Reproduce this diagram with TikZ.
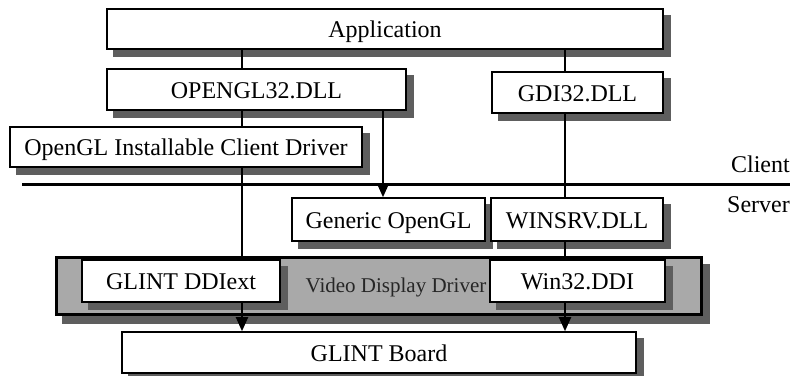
\documentclass[tikz,border=0pt]{standalone}
\usepackage{fontspec}
\setmainfont{Liberation Serif}
\usetikzlibrary{arrows.meta}
\definecolor{shadowgray}{HTML}{5E5E5E}
\definecolor{vddgray}{HTML}{A9A9A9}
\pgfdeclarelayer{backshadow}
\pgfdeclarelayer{back}
\pgfdeclarelayer{shadow}
\pgfdeclarelayer{lines}
\pgfsetlayers{backshadow,back,shadow,lines,main}
\tikzset{
  box/.style={draw=black, line width=1.6pt, fill=white, inner sep=0pt,
    text height=17pt, text depth=0pt, font=\fontsize{24}{28}\selectfont},
  vddbox/.style={draw=black, line width=3pt, fill=vddgray, inner sep=0pt},
  conn/.style={line width=2pt},
  arr/.style={line width=2pt, -{Triangle[length=14pt,width=12pt]}},
  lbl/.style={font=\fontsize{24}{28}\selectfont, inner sep=0pt, anchor=base east},
}
\begin{document}
\begin{tikzpicture}[x=1pt,y=-1pt]
\useasboundingbox (0,0) rectangle (795,375);
% boxes
\node[box, minimum width=556pt, minimum height=40pt] (app) at (385,29) {Application};
\node[box, minimum width=299pt, minimum height=41pt] (ogl) at (256.5,89.5) {OPENGL32.DLL};
\node[box, minimum width=171pt, minimum height=41pt] (gdi) at (577.5,92.5) {GDI32.DLL};
\node[box, minimum width=352pt, minimum height=40pt] (icd) at (186,147) {OpenGL Installable Client Driver};
\node[box, minimum width=193pt, minimum height=43pt] (gen) at (388.5,219.5) {Generic OpenGL};
\node[box, minimum width=172pt, minimum height=43pt] (winsrv) at (577,219.5) {WINSRV.DLL};
\begin{pgfonlayer}{back}
\node[vddbox, minimum width=645pt, minimum height=57pt] (vdd) at (378.5,285.5) {};
\end{pgfonlayer}
\begin{pgfonlayer}{backshadow}
\fill[shadowgray] ([xshift=7pt,yshift=-8pt]vdd.south west) rectangle ([xshift=7pt,yshift=-8pt]vdd.north east);
\end{pgfonlayer}
\node[font=\fontsize{21}{25}\selectfont, inner sep=0pt, text=black!85] (vddtext) at (396,287) {Video Display Driver};
\node[box, minimum width=198pt, minimum height=42pt] (ddi) at (181,281) {GLINT DDIext};
\node[box, minimum width=175pt, minimum height=42pt] (win32) at (577.5,281) {Win32.DDI};
\node[box, minimum width=514pt, minimum height=41pt] (board) at (379,352.5) {GLINT Board};
% labels
\node[lbl] (client) at (790,172) {Client};
\node[lbl] (server) at (790,212) {Server};
% shadows
\begin{pgfonlayer}{shadow}
\foreach \n in {app,ogl,gdi,icd,gen,winsrv,ddi,win32,board}
  \fill[shadowgray] ([xshift=7pt,yshift=-7pt]\n.south west) rectangle ([xshift=7pt,yshift=-7pt]\n.north east);
\end{pgfonlayer}
% connectors
\coordinate (xL) at (242,0);
\coordinate (xG) at (383,0);
\coordinate (xR) at (565,0);
\coordinate (dl) at (22,184);
\coordinate (dr) at (790,184);
\begin{pgfonlayer}{lines}
\draw[line width=3pt] (dl) -- (dr);
\draw[conn] (app.south -| xL) -- (ddi.north -| xL);
\draw[arr] (ddi.south -| xL) -- (board.north -| xL);
\draw[arr] (ogl.south -| xG) -- (gen.north -| xG);
\draw[conn] (app.south -| xR) -- (gdi.north -| xR);
\draw[conn] (gdi.south -| xR) -- (winsrv.north -| xR);
\draw[conn] (winsrv.south -| xR) -- (win32.north -| xR);
\draw[arr] (win32.south -| xR) -- (board.north -| xR);
\end{pgfonlayer}
\end{tikzpicture}
\end{document}
